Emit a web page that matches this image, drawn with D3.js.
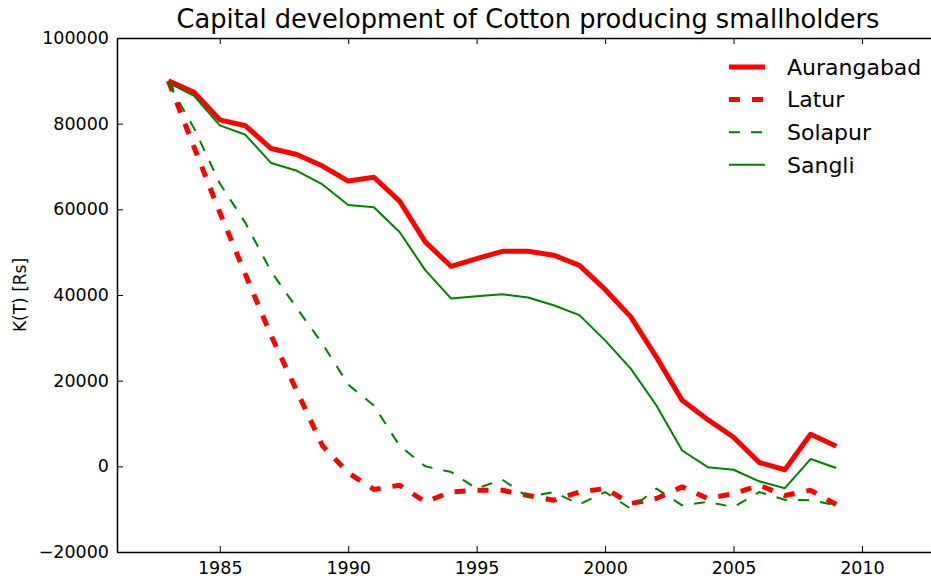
<!DOCTYPE html>
<html>
<head>
<meta charset="utf-8">
<script src="https://cdn.jsdelivr.net/npm/d3@7"></script>
<style>
  body { margin: 0; background: #fff; }
  svg { display: block; font-family: "DejaVu Sans", sans-serif; }
</style>
</head>
<body>
<div id="chart"></div>
<script>
const years = d3.range(1983, 2010);
const aurangabad = [90000, 87300, 80900, 79500, 74200, 72800, 70100, 66600, 67500, 61900,
  52400, 46700, 48500, 50200, 50200, 49300, 46900, 41300, 34900, 25500,
  15400, 10900, 6800, 900, -800, 7500, 4700];
const latur = [90000, 74500, 59300, 44800, 30500, 17600, 4800, -1500, -5400, -4400,
  -8300, -6000, -5600, -5600, -6800, -7900, -6000, -5200, -8700, -7500,
  -4800, -7500, -6400, -4400, -6800, -5600, -8900];
const solapur = [89500, 78900, 66100, 56800, 45500, 36900, 28600, 19100, 14200, 4800,
  0, -1300, -5200, -3100, -7200, -6000, -8900, -6000, -9900, -5200,
  -9100, -8300, -9500, -6000, -7800, -7900, -9100];
const sangli = [89500, 86500, 79600, 77400, 70800, 69000, 65800, 61000, 60500, 54700,
  45800, 39200, 39700, 40200, 39400, 37600, 35300, 29400, 22800, 14200,
  3700, -200, -800, -3500, -5100, 1700, -400];

const xTicks = [1985, 1990, 1995, 2000, 2005, 2010];
const yTicks = [-20000, 0, 20000, 40000, 60000, 80000, 100000];

const series = [
  {name: "Aurangabad", values: aurangabad, color: "#ff0000", width: 5, dash: null},
  {name: "Latur", values: latur, color: "#ff0000", width: 5, dash: "11,12"},
  {name: "Solapur", values: solapur, color: "#008000", width: 2, dash: "11,11"},
  {name: "Sangli", values: sangli, color: "#008000", width: 2, dash: null}
];

const width = 931, height = 579;
const margin = {top: 38, right: -8, bottom: 27, left: 117};

const x = d3.scaleLinear().domain([1981, 2013]).range([margin.left, width - margin.right]);
const y = d3.scaleLinear().domain([-20000, 100000]).range([height - margin.bottom, margin.top]);

const svg = d3.select("#chart").append("svg")
  .attr("width", width)
  .attr("height", height);

// lines
const line = d3.line().x((d, i) => x(years[i])).y(d => y(d));
svg.append("g")
  .selectAll("path")
  .data(series)
  .join("path")
    .attr("fill", "none")
    .attr("stroke", d => d.color)
    .attr("stroke-width", d => d.width)
    .attr("stroke-dasharray", d => d.dash)
    .attr("stroke-linejoin", "round")
    .attr("d", d => line(d.values));

// axes (ticks inside, matplotlib style)
const xb = svg.append("g")
  .attr("transform", `translate(0,${y(-20000)})`)
  .call(d3.axisBottom(x).tickValues(xTicks).tickFormat(d3.format("d")).tickSizeInner(-6).tickSizeOuter(0).tickPadding(10));
const xt = svg.append("g")
  .attr("transform", `translate(0,${y(100000)})`)
  .call(d3.axisTop(x).tickValues(xTicks).tickFormat("").tickSizeInner(-6).tickSizeOuter(0));
const yl = svg.append("g")
  .attr("transform", `translate(${x(1981)},0)`)
  .call(d3.axisLeft(y).tickValues(yTicks).tickFormat(d3.format("d")).tickSizeInner(-6).tickSizeOuter(0).tickPadding(8));

[xb, xt, yl].forEach(g => {
  g.select(".domain").attr("stroke", "#000").attr("stroke-width", 1.5);
  g.selectAll(".tick line").attr("stroke", "#000").attr("stroke-width", 1);
  g.selectAll("text").attr("font-size", 17.5).attr("fill", "#000")
    .attr("font-family", "DejaVu Sans, sans-serif");
});

// title
svg.append("text")
  .attr("x", (x(1981) + x(2013)) / 2)
  .attr("y", 28)
  .attr("text-anchor", "middle")
  .attr("font-size", 25.7)
  .text("Capital development of Cotton producing smallholders");

// y label
svg.append("text")
  .attr("transform", `translate(26,${y(40000)}) rotate(-90)`)
  .attr("text-anchor", "middle")
  .attr("font-size", 17)
  .text("K(T) [Rs]");

// legend
const legend = svg.append("g").attr("transform", "translate(729,67)");
const row = legend.selectAll("g")
  .data(series)
  .join("g")
    .attr("transform", (d, i) => `translate(0,${i * 32.6})`);
row.append("line")
  .attr("x1", 0).attr("x2", 36)
  .attr("stroke", d => d.color)
  .attr("stroke-width", d => d.width)
  .attr("stroke-dasharray", d => d.dash);
row.append("text")
  .attr("x", 58)
  .attr("dy", "0.35em")
  .attr("font-size", 22)
  .text(d => d.name);
</script>
</body>
</html>
